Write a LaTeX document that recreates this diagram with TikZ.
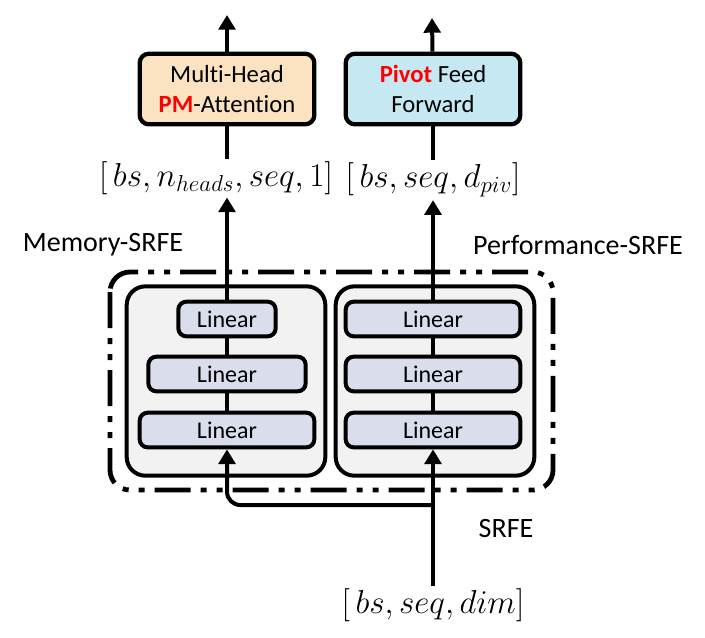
\documentclass[tikz,border=0pt]{standalone}
\usepackage{fontspec}
\setmainfont[Ligatures=NoCommon]{Carlito}
\usetikzlibrary{arrows.meta}
\definecolor{attfill}{HTML}{FBE3C2}
\definecolor{fffill}{HTML}{C6E8F3}
\definecolor{srfefill}{HTML}{F2F2F2}
\definecolor{linfill}{HTML}{DADDEC}
\definecolor{hot}{HTML}{FF0000}
\tikzset{
  blk/.style={draw,line width=3.2pt,rounded corners=7pt,align=center,font=\fontsize{18.5}{22.5}\selectfont,inner sep=0pt},
  linbox/.style={draw,line width=3pt,rounded corners=6pt,fill=linfill,minimum height=26pt,inner sep=0pt,font=\fontsize{18}{20}\selectfont},
  srfebox/.style={draw,line width=3pt,rounded corners=14pt,fill=srfefill,minimum width=149pt,minimum height=142pt},
  flow/.style={line width=3pt,-{Triangle[length=11pt,width=12.5pt]}},
  dims/.style={font=\fontsize{25}{28}\selectfont,inner sep=2pt},
  lbl/.style={font=\fontsize{21}{24}\selectfont}
}
\begin{document}
\begin{tikzpicture}[x=0.75pt,y=-0.75pt]
	\useasboundingbox (0,0) rectangle (705,637);
	\draw[line width=3.6pt,rounded corners=15pt,dash pattern=on 27pt off 7.5pt on 4.5pt off 7.5pt on 4.5pt off 7.5pt] (110,272) rectangle (553,490);
	\node[srfebox] (mem) at (226,381) {};
	\node[srfebox] (perf) at (435,381) {};
	\node[linbox,minimum width=73pt] (l3) at (227,319) {Linear};
	\node[linbox,minimum width=118pt] (l2) at (227,374) {Linear};
	\node[linbox,minimum width=131pt] (l1) at (227,430) {Linear};
	\node[linbox,minimum width=131pt] (r3) at (433,319) {Linear};
	\node[linbox,minimum width=131pt] (r2) at (433,374) {Linear};
	\node[linbox,minimum width=131pt] (r1) at (433,430) {Linear};
	\draw[line width=3pt] (l1) -- (l2) -- (l3);
	\draw[line width=3pt] (r1) -- (r2) -- (r3);
	\node[blk,fill=attfill,minimum width=131pt,minimum height=53pt] (att) at (227,89) {Multi-Head\\\textcolor{hot}{\textbf{PM}}-Attention};
	\node[blk,fill=fffill,minimum width=131pt,minimum height=53pt] (ff) at (433,89) {\textcolor{hot}{\textbf{Pivot}} Feed\\Forward};
	\coordinate (outA) at (227,15);
	\coordinate (outB) at (432,18);
	\draw[flow] (att) -- (outA);
	\draw[flow] (ff) -- (outB);
	\node[dims] (dA) at (216,178) {$[\,bs,n_{heads},seq,1]$};
	\node[dims] (dB) at (433,180) {$[\,bs,seq,d_{piv}]$};
	\draw[line width=3pt] (att) -- (att |- dA.north);
	\draw[line width=3pt] (ff) -- (ff |- dB.north);
	\draw[flow] (l3.north) -- (l3 |- dA.south);
	\draw[flow] (r3.north) -- (r3 |- dB.south);
	\node[dims] (din) at (433,605) {$[\,bs,seq,dim]$};
	\coordinate (split) at (433,505);
	\draw[flow] (din.north) -- (r1.south);
	\draw[flow,rounded corners=10pt] (split) -| (l1.south);
	\node[lbl] (memlbl) at (103,245) {Memory-SRFE};
	\node[lbl] (perflbl) at (578,245) {Performance-SRFE};
	\node[lbl] (srfelbl) at (506,528) {SRFE};
\end{tikzpicture}
\end{document}
